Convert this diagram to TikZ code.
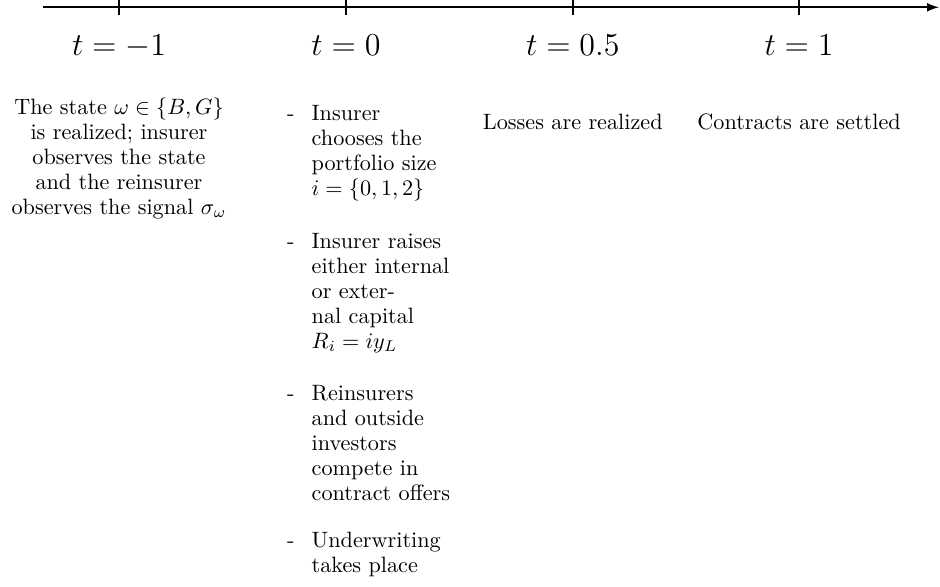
\documentclass[tikz,border=0pt]{standalone}
\usetikzlibrary{positioning}

\begin{document}
\begin{tikzpicture}[
    txt/.style={inner sep=0pt,font=\fontsize{10}{11.2}\selectfont},
    tlab/.style={inner sep=0pt,anchor=base,font=\fontsize{13.8}{16}\selectfont}]
  \useasboundingbox (-1.883,0.1155) rectangle (12.99,-9.157);
  % time axis
  \coordinate (start) at (-1.2,0);
  \coordinate (end) at (12.97,0);
  \draw[thick,-latex] (start) -- (end);
  \foreach \x/\t/\nm in {0/-1/tm,3.59/0/tz,7.18/0.5/th,10.76/1/to} {
    \draw[thick] (\x,0.115) -- (\x,-0.115);
    \node[tlab] (lab\nm) at (\x,-0.755) {$t=\t$};
  }
  % t = -1
  \node[txt,anchor=base] (state) at (0,-1.704)
    {\begin{tabular}[t]{@{}c@{}}
      The state $\omega\in\{B,G\}$\\
      is realized; insurer\\
      observes the state\\
      and the reinsurer\\
      observes the signal $\sigma_\omega$
    \end{tabular}};
  % t = 0
  \node[txt,anchor=base west] (steps) at (2.652,-1.794)
    {\begin{tabular}[t]{@{}l@{\hspace{7.75pt}}l@{}}
      - & Insurer\\
        & chooses the\\
        & portfolio size\\
        & $i=\{0,1,2\}$\\[12.8pt]
      - & Insurer raises\\
        & either internal\\
        & or exter-\\
        & nal capital\\
        & $R_i=iy_L$\\[12.5pt]
      - & Reinsurers\\
        & and outside\\
        & investors\\
        & compete in\\
        & contract offers\\[10.2pt]
      - & Underwriting\\
        & takes place
    \end{tabular}};
  % t = 0.5 and t = 1
  \node[txt,anchor=base] (loss) at (7.18,-1.926) {Losses are realized};
  \node[txt,anchor=base] (settle) at (10.76,-1.926) {Contracts are settled};
\end{tikzpicture}
\end{document}
